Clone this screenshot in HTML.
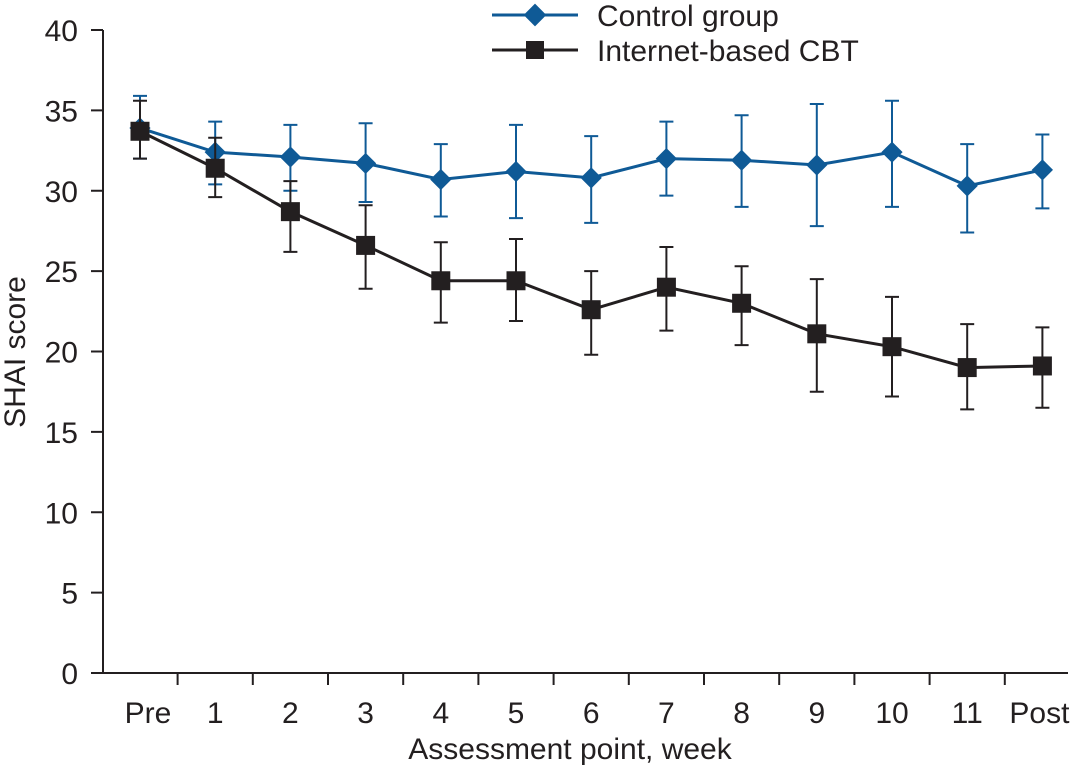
<!DOCTYPE html>
<html><head><meta charset="utf-8"><style>
body{margin:0;background:#fff;}
svg text{font-family:"Liberation Sans","DejaVu Sans",sans-serif;fill:#231f20;}
</style></head><body>
<svg id="chart" width="1070" height="767" viewBox="0 0 1070 767" xmlns="http://www.w3.org/2000/svg">
<g id="axes"></g>
<g id="series"></g>
<g id="legend">
  <line x1="492" y1="15" x2="578" y2="15" stroke="#0f5a96" stroke-width="3"/>
  <rect x="527" y="7" width="16" height="16" fill="#0f5a96" transform="rotate(45 535 15)"/>
  <text x="597" y="26" font-size="30">Control group</text>
  <line x1="492" y1="50" x2="578" y2="50" stroke="#231f20" stroke-width="3"/>
  <rect x="526" y="41" width="18" height="18" fill="#231f20"/>
  <text x="597" y="61" font-size="30">Internet-based CBT</text>
</g>
<text x="570" y="759" font-size="30" text-anchor="middle">Assessment point, week</text>
<text transform="translate(25 352) rotate(-90)" font-size="30" text-anchor="middle">SHAI score</text>
</svg>
<script>
const categories=["Pre","1","2","3","4","5","6","7","8","9","10","11","Post"];
const yTicks=[0,5,10,15,20,25,30,35,40];
const controlMean=[33.9,32.4,32.1,31.7,30.7,31.2,30.8,32.0,31.9,31.6,32.4,30.3,31.3];
const controlUpper=[35.9,34.3,34.1,34.2,32.9,34.1,33.4,34.3,34.7,35.4,35.6,32.9,33.5];
const controlLower=[32.0,30.4,30.0,29.3,28.4,28.3,28.0,29.7,29.0,27.8,29.0,27.4,28.9];
const cbtMean=[33.7,31.4,28.7,26.6,24.4,24.4,22.6,24.0,23.0,21.1,20.3,19.0,19.1];
const cbtUpper=[35.6,33.3,30.6,29.1,26.8,27.0,25.0,26.5,25.3,24.5,23.4,21.7,21.5];
const cbtLower=[32.0,29.6,26.2,23.9,21.8,21.9,19.8,21.3,20.4,17.5,17.2,16.4,16.5];

const NS="http://www.w3.org/2000/svg";
const x0=103,x1=1068,yTop=30,yBot=673,step=75.2,first=140;
function xs(i){return first+i*step;}
function ys(v){return yBot-(v/40)*(yBot-yTop);}
function mk(tag,attrs,parent){const e=document.createElementNS(NS,tag);for(const k in attrs)e.setAttribute(k,attrs[k]);parent.appendChild(e);return e;}
const axes=document.getElementById('axes'),series=document.getElementById('series');
let a=mk('line',{x1:x0,y1:yTop,x2:x0,y2:yBot,stroke:'#231f20','stroke-width':2},axes);


a=mk('line',{x1:x0,y1:yBot,x2:x1,y2:yBot,stroke:'#231f20','stroke-width':2},axes);


yTicks.forEach(v=>{
  const t=mk('line',{x1:x0-12,y1:ys(v),x2:x0,y2:ys(v),stroke:'#231f20','stroke-width':2},axes);
  
  
  const l=mk('text',{x:x0-25,y:ys(v)+11,'font-size':30,'text-anchor':'end'},axes);l.textContent=v;
  
  
});
categories.forEach((c,i)=>{
  if(i<categories.length-1){
  const t=mk('line',{x1:xs(i)+step/2,y1:yBot,x2:xs(i)+step/2,y2:yBot+12,stroke:'#231f20','stroke-width':2},axes);
  
  }
  const l=mk('text',{x:i==0?xs(i)+8:(i==categories.length-1?xs(i)-3:xs(i)),y:723,'font-size':30,'text-anchor':'middle'},axes);l.textContent=c;
  
  
});
function draw(mean,up,lo,color,name,shape){
  const g=mk('g',{},series);
  
  
  up.forEach((u,i)=>{
    const x=xs(i);
    const e=mk('path',{d:`M${x},${ys(u)}V${ys(lo[i])}M${x-7},${ys(u)}H${x+7}M${x-7},${ys(lo[i])}H${x+7}`,stroke:color,'stroke-width':2,fill:'none'},g);
    
    
  });
  const ln=mk('polyline',{points:mean.map((v,i)=>xs(i)+','+ys(v)).join(' '),fill:'none',stroke:color,'stroke-width':3},g);
  
  
  mean.forEach((v,i)=>{
    let m;
    if(shape=='diamond') m=mk('rect',{x:xs(i)-7.5,y:ys(v)-7.5,width:15,height:15,fill:color,transform:`rotate(45 ${xs(i)} ${ys(v)})`},g);
    else m=mk('rect',{x:xs(i)-9.5,y:ys(v)-9.5,width:19,height:19,fill:color},g);
    
    
  });
}
draw(controlMean,controlUpper,controlLower,'#0f5a96','control','diamond');
draw(cbtMean,cbtUpper,cbtLower,'#231f20','cbt','square');
</script>
</body></html>
